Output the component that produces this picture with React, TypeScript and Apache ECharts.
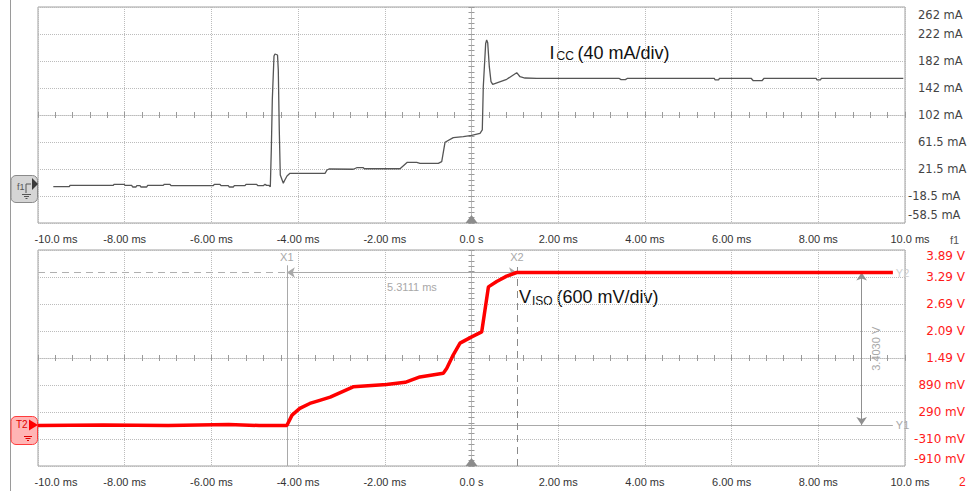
import React, { useEffect, useRef } from 'react';
import * as echarts from 'echarts';

// ---------- axes / tick labels ----------
const timeTickLabels = ['-10.0 ms', '-8.00 ms', '-6.00 ms', '-4.00 ms', '-2.00 ms', '0.0 s', '2.00 ms', '4.00 ms', '6.00 ms', '8.00 ms', '10.0 ms'];
const iccTickLabels = ['-58.5 mA', '-18.5 mA', '21.5 mA', '61.5 mA', '102 mA', '142 mA', '182 mA', '222 mA', '262 mA'];
const visoTickLabels = ['-910 mV', '-310 mV', '290 mV', '890 mV', '1.49 V', '2.09 V', '2.69 V', '3.29 V', '3.89 V'];

const timeMin = -10;
const timeMax = 10;
const timeStep = 2;
const divisions = 8;
const iccMin = -58.5;
const iccMax = 261.5;
const visoMin = -0.91;
const visoMax = 3.89;

// ---------- Icc trace (ms, mA) ----------
const iccTime = [
  -9.647, -9.278, -9.262, -8.263, -8.247, -8.016, -7.993, -7.839, -7.816, -7.739,
  -7.723, -7.647, -7.624, -7.492, -7.47, -7.11, -7.087, -6.955, -6.932, -5.956,
  -5.933, -5.802, -5.779, -5.61, -5.587, -5.495, -5.472, -5.225, -5.202, -4.955,
  -4.932, -4.803, -4.764, -4.725, -4.678, -4.641,
  -4.618, -4.595, -4.556, -4.533, -4.475, -4.457, -4.434, -4.411, -4.341, -4.318,
  -4.256, -4.187, -3.379, -3.333, -3.287,
  -2.727, -2.648, -2.496, -2.473, -1.649, -1.481, -1.264, -1.188, -0.766, -0.687,
  -0.611, -0.42, -0.189, 0.004, 0.196, 0.249, 0.272, 0.327, 0.35, 0.374,
  0.411, 0.45, 0.489, 0.812, 1.043, 1.119, 1.234, 1.504,
  3.4, 3.45, 3.55, 3.6, 5.6, 5.62, 5.7, 5.72, 6.45, 6.5, 6.7, 6.75, 7.95, 7.97, 8.05, 8.07, 9.961,
];
const iccValue = [
  -4.7, -4.7, -2.7, -2.7, -1.2, -1.2, -2.7, -2.7, -5.2, -5.2,
  -3.2, -3.2, -5.2, -5.2, -2.7, -2.7, -1.2, -1.2, -3.2, -3.2,
  -1.2, -1.2, -3.2, -3.2, -5.2, -5.2, -3.2, -3.2, -1.2, -1.2,
  -3.2, -3.2, -1.2, -2.7, -2.7, -4.7,
  49.6, 123.7, 188.9, 191.9, 190.4, 168.2, 79.3, 12.6, 0.3, 3.7,
  11.1, 15.1, 15.1, 20.0, 21.5,
  21.1, 23.4, 23.4, 21.9, 21.9, 31.4, 31.4, 29.9, 29.9, 32.3,
  61.1, 67.9, 69.4, 71.4, 74.4, 79.3, 143.4, 207.7, 212.6, 208.6,
  173.1, 150.8, 147.0, 154.4, 164.2, 158.2, 156.3, 155.9,
  155.9, 153.9, 153.9, 155.9, 155.9, 153.4, 153.4, 155.9, 155.9, 152.3, 152.3, 155.9, 155.9, 153.4, 153.4, 155.9, 155.9,
];

// ---------- VISO trace (ms, V) ----------
const visoTime = [
  -10, -8.5, -7.0, -5.6, -4.9, -4.26, -4.14, -3.96, -3.73, -3.5,
  -3.26, -2.73, -1.96, -1.53, -1.19, -0.65, -0.57, -0.42, -0.265, 0.004,
  0.235, 0.39, 0.581, 0.812, 1.043, 9.72,
];
const visoValue = [
  -0.01, 0.0, -0.01, 0.01, -0.01, -0.01, 0.22, 0.37, 0.48, 0.55,
  0.62, 0.85, 0.9, 0.95, 1.07, 1.15, 1.26, 1.56, 1.82, 1.96,
  2.07, 3.07, 3.19, 3.31, 3.39, 3.39,
];

// ---------- cursors ----------
const cursorX = [-4.26, 1.05]; // X1, X2 (ms)
const cursorY = [0.0, 3.39]; // Y1, Y2 (V)
const cursorTop = 3.55;
const cursorRight = 9.72;
const measureTime = 9.0;
const deltaLabels = ['5.3111 ms', '3.4030 V'];

const pairs = (ts: number[], vs: number[]) => ts.map((t, i) => [t, vs[i]]);

const SANS = 'Liberation Sans, Arial, sans-serif';
const VERD = 'DejaVu Sans, Verdana, sans-serif';
const gridDot = { type: 'dotted' as const, color: '#bcbcbc', width: 1 };
const tickStyle = { color: '#9a9a9a', width: 1 };
const cursorColor = '#a9a9a9';

const timeFont = { fontFamily: SANS, fontSize: 11, color: '#333' };
const timeRich = {
  f: { ...timeFont, padding: [0, 0, 0, 36] },
  l: { ...timeFont, padding: [0, 0, 0, 10] },
  n: { ...timeFont },
};
const timeFmt = (v: number) => {
  const i = Math.round((v - timeMin) / timeStep);
  const s = timeTickLabels[i] ?? '';
  if (i === 0) return `{f|${s}}`;
  if (i === timeTickLabels.length - 1) return `{l|${s}}`;
  return `{n|${s}}`;
};

const iccFont = { fontFamily: VERD, fontSize: 11.5, color: '#444' };
const iccRich = {
  n: { ...iccFont },
  p: { ...iccFont, padding: [0, 0, 0, 10] },
  nb: { ...iccFont, padding: [0, 0, 16, 0] },
  pt: { ...iccFont, padding: [16, 0, 0, 10] },
};
const iccFmt = (v: number) => {
  const i = Math.round(v);
  const s = iccTickLabels[i] ?? '';
  let key = s.startsWith('-') ? 'n' : 'p';
  if (i === 0) key = 'nb';
  if (i === divisions) key = 'pt';
  return `{${key}|${s}}`;
};

const visoFont = { fontFamily: VERD, fontSize: 12, color: '#ff1a1a' };
const visoRich = {
  n: { ...visoFont },
  b: { ...visoFont, padding: [0, 0, 14, 0] },
  t: { ...visoFont, padding: [12, 0, 0, 0] },
};
const visoFmt = (v: number) => {
  const i = Math.round(v);
  const s = visoTickLabels[i] ?? '';
  const key = i === 0 ? 'b' : i === divisions ? 't' : 'n';
  return `{${key}|${s}}`;
};

const mainX = (grid: number) => ({
  type: 'value', gridIndex: grid, min: timeMin, max: timeMax, interval: timeStep, position: 'bottom',
  axisLine: { show: false, onZero: false }, axisTick: { show: false },
  axisLabel: { margin: 10, formatter: timeFmt, rich: timeRich, ...timeFont },
  splitLine: { show: true, lineStyle: gridDot },
});
const centerX = (grid: number, yIdx: number, inside: boolean) => ({
  type: 'value', gridIndex: grid, min: timeMin, max: timeMax, interval: timeStep, position: 'bottom',
  axisLine: { show: inside, onZero: true, onZeroAxisIndex: yIdx, lineStyle: gridDot },
  axisTick: { show: true, inside, length: 3, lineStyle: tickStyle },
  minorTick: { show: true, splitNumber: 5, length: 3, lineStyle: tickStyle },
  axisLabel: { show: false }, splitLine: { show: false },
});
const divY = (grid: number, fmt: any, rich: any, font: any, align: string, margin: number) => ({
  type: 'value', gridIndex: grid, min: 0, max: divisions, interval: 1, position: 'right',
  axisLine: { show: false, onZero: false }, axisTick: { show: false },
  axisLabel: { formatter: fmt, rich, align, margin, ...font },
  splitLine: { show: true, lineStyle: gridDot },
});
const dataY = (grid: number, min: number, max: number) => ({
  type: 'value', gridIndex: grid, min, max, show: false, position: 'left',
  axisLine: { onZero: false }, splitLine: { show: false },
});
const centerY = (grid: number, xIdx: number, inside: boolean) => ({
  type: 'value', gridIndex: grid, min: -divisions / 2, max: divisions / 2, interval: 1, position: 'left',
  axisLine: { show: inside, onZero: true, onZeroAxisIndex: xIdx, lineStyle: gridDot },
  axisTick: { show: true, inside, length: 3, lineStyle: tickStyle },
  minorTick: { show: true, splitNumber: 5, length: 3, lineStyle: tickStyle },
  axisLabel: { show: false }, splitLine: { show: false },
});

const trigger = (yMin: number) => ({
  symbol: 'triangle', symbolSize: [12, 8], symbolOffset: [0, -4], silent: true,
  itemStyle: { color: '#8c8c8c' }, label: { show: false },
  data: [{ coord: [0, yMin] }],
});

const cLabel = { color: '#a8a8a8', fontSize: 11, fontFamily: SANS };

const option: any = {
  animation: false,
  backgroundColor: '#ffffff',
  grid: [
    { left: 38, top: 7, width: 867, height: 216, show: true, borderColor: '#a0a0a0', borderWidth: 1, backgroundColor: '#fff', outerBoundsMode: 'none' },
    { left: 38, top: 250, width: 867, height: 216, show: true, borderColor: '#a0a0a0', borderWidth: 1, backgroundColor: '#fff', outerBoundsMode: 'none' },
  ],
  xAxis: [
    mainX(0), centerX(0, 2, true), centerX(0, 2, false),
    mainX(1), centerX(1, 6, true), centerX(1, 6, false),
  ],
  yAxis: [
    divY(0, iccFmt, iccRich, iccFont, 'left', 3), dataY(0, iccMin, iccMax), centerY(0, 0, true), centerY(0, 0, false),
    divY(1, visoFmt, visoRich, visoFont, 'right', 60), dataY(1, visoMin, visoMax), centerY(1, 3, true), centerY(1, 3, false),
  ],
  series: [
    {
      name: 'Icc', type: 'line', xAxisIndex: 0, yAxisIndex: 1, data: pairs(iccTime, iccValue),
      symbol: 'none', showSymbol: false, z: 3,
      lineStyle: { color: '#555555', width: 1.3 },
      markPoint: trigger(iccMin),
    },
    {
      name: 'cursors', type: 'line', xAxisIndex: 3, yAxisIndex: 5, data: [], z: 1,
      markLine: {
        silent: true, z: 1, symbol: ['none', 'none'], symbolSize: 8,
        lineStyle: { color: cursorColor, width: 1, type: 'solid' },
        label: { show: false, ...cLabel },
        data: [
          [
            { coord: [timeMin, cursorY[1]], lineStyle: { type: [7, 5], color: '#b0b0b0' }, label: { show: true, position: 'end', formatter: 'Y2', color: '#d0d0d0', distance: 3 } },
            { coord: [cursorRight, cursorY[1]] },
          ],
          [
            { coord: [cursorX[0], cursorY[0]], label: { show: true, position: 'end', formatter: 'Y1', distance: 3 } },
            { coord: [cursorRight, cursorY[0]] },
          ],
          [
            { coord: [cursorX[0], visoMin], label: { show: true, position: 'end', formatter: 'X1', distance: 3 } },
            { coord: [cursorX[0], cursorTop] },
          ],
          [
            { coord: [cursorX[1], visoMin], lineStyle: { type: [7, 5], color: '#8a8a8a' }, label: { show: true, position: 'end', formatter: 'X2', distance: 3 } },
            { coord: [cursorX[1], cursorTop] },
          ],
          [
            { coord: [cursorX[0], cursorY[1]], symbol: 'arrow', label: { show: true, position: 'insideMiddleBottom', formatter: `{a|${deltaLabels[0]}}`, rich: { a: { ...cLabel, padding: [0, 0, 0, 20] } }, distance: 9 } },
            { coord: [cursorX[1], cursorY[1]], symbol: 'arrow' },
          ],
          [
            { coord: [measureTime, cursorY[0]], symbol: 'arrow', lineStyle: { color: '#909090' }, label: { show: true, position: 'insideMiddleBottom', formatter: deltaLabels[1], distance: 9 } },
            { coord: [measureTime, cursorY[1]], symbol: 'arrow' },
          ],
        ],
      },
    },
    {
      name: 'VISO', type: 'line', xAxisIndex: 3, yAxisIndex: 5, data: pairs(visoTime, visoValue),
      symbol: 'none', showSymbol: false, z: 3,
      lineStyle: { color: '#ff0000', width: 3.5 },
      markPoint: trigger(visoMin),
    },
  ],
  graphic: [
    { type: 'line', shape: { x1: 10.5, y1: 0, x2: 10.5, y2: 491 }, style: { stroke: '#9a9a9a', lineWidth: 1 }, silent: true },
    // f1 marker
    { type: 'rect', shape: { x: 11, y: 175.5, width: 26.5, height: 27, r: 5 }, style: { fill: '#d5d5d5', stroke: '#8a8a8a', lineWidth: 1 }, silent: true },
    { type: 'polygon', shape: { points: [[32, 178], [38, 184], [32, 190]] }, style: { fill: '#3a3a3a' }, silent: true },
    { type: 'text', x: 17, y: 187, style: { text: 'f1', font: '9px Liberation Sans', fill: '#555', verticalAlign: 'middle' }, silent: true },
    { type: 'polyline', shape: { points: [[26, 193], [26, 184], [31, 184]] }, style: { stroke: '#555', lineWidth: 1, fill: null }, silent: true },
    { type: 'line', shape: { x1: 22, y1: 194.5, x2: 31, y2: 194.5 }, style: { stroke: '#555', lineWidth: 1 }, silent: true },
    { type: 'line', shape: { x1: 24, y1: 196.5, x2: 29, y2: 196.5 }, style: { stroke: '#555', lineWidth: 1 }, silent: true },
    { type: 'line', shape: { x1: 25.5, y1: 198.5, x2: 27.5, y2: 198.5 }, style: { stroke: '#555', lineWidth: 1 }, silent: true },
    // T2 marker
    { type: 'rect', shape: { x: 11, y: 416.5, width: 26.5, height: 28, r: 5 }, style: { fill: '#ffb5b5', stroke: '#ff3c3c', lineWidth: 1 }, silent: true },
    { type: 'text', x: 16, y: 424, style: { text: 'T2', font: '10px Liberation Sans', fill: '#e00000', verticalAlign: 'middle' }, silent: true },
    { type: 'polygon', shape: { points: [[29, 419.5], [38, 425], [29, 430.5]] }, style: { fill: '#ff0000' }, silent: true },
    { type: 'line', shape: { x1: 24, y1: 436.5, x2: 32, y2: 436.5 }, style: { stroke: '#e00000', lineWidth: 1 }, silent: true },
    { type: 'line', shape: { x1: 25.5, y1: 438.5, x2: 30.5, y2: 438.5 }, style: { stroke: '#e00000', lineWidth: 1 }, silent: true },
    { type: 'line', shape: { x1: 27, y1: 440.5, x2: 29, y2: 440.5 }, style: { stroke: '#e00000', lineWidth: 1 }, silent: true },
    // channel captions
    { type: 'text', x: 549.5, y: 53, style: { text: 'I', font: '18px Liberation Sans', fill: '#111', verticalAlign: 'middle' }, silent: true },
    { type: 'text', x: 556.5, y: 56, style: { text: 'CC', font: '12px Liberation Sans', fill: '#111', verticalAlign: 'middle' }, silent: true },
    { type: 'text', x: 577.5, y: 53, style: { text: '(40 mA/div)', font: '18px Liberation Sans', fill: '#111', verticalAlign: 'middle' }, silent: true },
    { type: 'text', x: 519, y: 297, style: { text: 'V', font: '18px Liberation Sans', fill: '#111', verticalAlign: 'middle' }, silent: true },
    { type: 'text', x: 532, y: 301, style: { text: 'ISO', font: '12px Liberation Sans', fill: '#111', verticalAlign: 'middle' }, silent: true },
    { type: 'text', x: 556.5, y: 297, style: { text: '(600 mV/div)', font: '18px Liberation Sans', fill: '#111', verticalAlign: 'middle' }, silent: true },
    // channel ids next to time axes
    { type: 'text', x: 950, y: 240, style: { text: 'f1', font: '11px Liberation Sans', fill: '#555', verticalAlign: 'middle' }, silent: true },
    { type: 'text', x: 959, y: 482, style: { text: '2', font: '12px Liberation Sans', fill: '#ff1a1a', verticalAlign: 'middle' }, silent: true },
  ],
};

export default function App() {
  const ref = useRef<HTMLDivElement>(null);
  useEffect(() => {
    if (!ref.current) return;
    const chart = echarts.init(ref.current, null, { renderer: 'svg' });
    chart.setOption(option);
    return () => chart.dispose();
  }, []);
  return (
    <div
      ref={ref}
      style={{ position: 'fixed', left: 0, top: 0, width: 967, height: 491, background: '#fff' }}
    />
  );
}
